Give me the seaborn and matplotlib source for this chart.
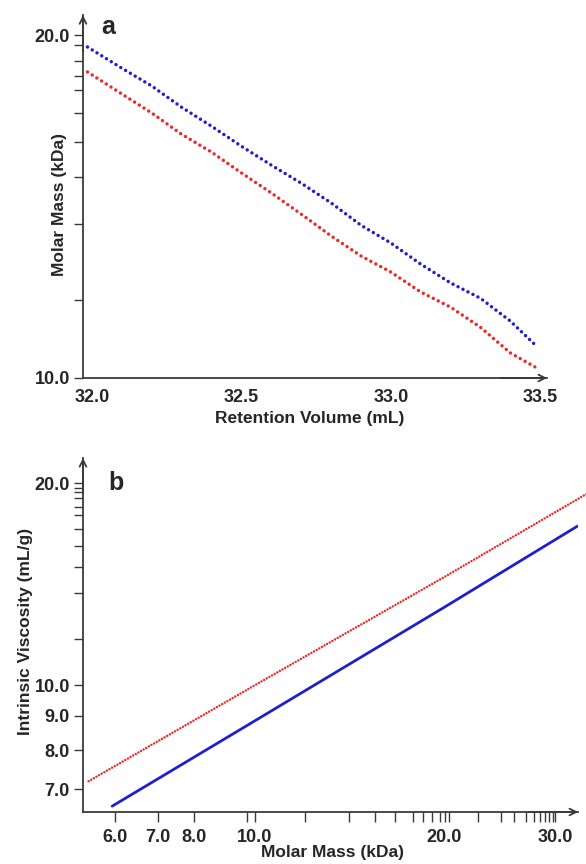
import pandas as pd
import seaborn as sns
import matplotlib.pyplot as plt

sns.set_style('ticks')
plt.rcParams['font.family'] = ['Liberation Sans', 'DejaVu Sans']
plt.rcParams['font.weight'] = 'bold'

# panel a: molar mass vs retention volume
retention_volume = [31.985, 32.1, 32.2, 32.3, 32.4, 32.5, 32.6, 32.7, 32.8,
                    32.9, 33.0, 33.1, 33.2, 33.3, 33.4, 33.49]
mass_blue = [19.53, 18.71, 18.05, 17.29, 16.64, 15.98, 15.38, 14.83, 14.25,
             13.62, 13.14, 12.59, 12.12, 11.75, 11.22, 10.65]
mass_red = [18.57, 17.76, 17.09, 16.37, 15.79, 15.14, 14.54, 13.93, 13.33,
            12.80, 12.39, 11.90, 11.54, 11.08, 10.52, 10.20]

# panel b: intrinsic viscosity vs molar mass (Mark-Houwink lines)
mm_red = [5.44, 10.0, 20.0, 33.7]
visc_red = [7.19, 10.0, 14.5, 19.3]
mm_blue = [5.93, 10.0, 20.0, 32.5]
visc_blue = [6.6, 8.85, 13.07, 17.25]

# tick labels
a_xticks = [32.0, 32.5, 33.0, 33.5]
a_yticks = [10.0, 20.0]
b_xticks = [6.0, 7.0, 8.0, 10.0, 20.0, 30.0]
b_yticks = [7.0, 8.0, 9.0, 10.0, 20.0]
y_minor = [11.7, 13.65, 15.0, 16.1, 17.1, 17.9, 18.4, 19.0, 19.6]
b_y_minor = [11.7, 13.7, 15.0, 16.1, 17.1, 17.9, 18.4, 19.0, 19.4, 19.7]
b_x_minor = [9.7, 12.0, 14.1, 15.5, 16.7, 17.8, 18.5, 19.1, 19.7, 20.3,
             22.6, 24.6, 25.8, 26.9, 27.7, 28.4, 28.9, 29.3, 29.7]

BLUE = '#1f1fd0'
RED = '#ec2a2a'
AX = '#3a3a3a'

df_a = pd.DataFrame({'vol': retention_volume * 2,
                     'mass': mass_blue + mass_red,
                     'series': ['blue'] * len(mass_blue) + ['red'] * len(mass_red)})

fig = plt.figure(figsize=(5.86, 8.64), dpi=100)
ax1 = fig.add_axes([0.1416, 0.5625, 0.792, 0.420])
ax2 = fig.add_axes([0.1416, 0.0602, 0.845, 0.4097])


def style_axes(ax):
    sns.despine(ax=ax)
    for side in ['left', 'bottom']:
        ax.spines[side].set_color(AX)
        ax.spines[side].set_linewidth(1.3)
    ax.annotate('', xy=(1, 0), xytext=(0.9, 0), xycoords='axes fraction',
                arrowprops=dict(arrowstyle='->', lw=1.3, color=AX,
                                shrinkA=0, shrinkB=0, mutation_scale=12),
                annotation_clip=False)
    ax.annotate('', xy=(0, 1), xytext=(0, 0.9), xycoords='axes fraction',
                arrowprops=dict(arrowstyle='->', lw=1.3, color=AX,
                                shrinkA=0, shrinkB=0, mutation_scale=12),
                annotation_clip=False)


# ---- panel a
for name, col in [('blue', BLUE), ('red', RED)]:
    sub = df_a[df_a['series'] == name]
    sns.lineplot(data=sub, x='vol', y='mass', ax=ax1, color=col, lw=2.5,
                 linestyle=(0, (0.01, 1.6)), dash_capstyle='round',
                 sort=False, estimator=None)
ax1.set_yscale('log')
ax1.set_xlim(31.97, 33.523)
ax1.set_ylim(10.0, 20.83)
ax1.set_xticks(a_xticks)
ax1.set_xticklabels([f'{v:.1f}' for v in a_xticks])
ax1.set_yticks(a_yticks)
ax1.set_yticklabels([f'{v:.1f}' for v in a_yticks])
ax1.set_yticks(y_minor, minor=True)
ax1.yaxis.set_minor_formatter(plt.NullFormatter())
ax1.tick_params(axis='x', length=0, pad=8, labelsize=13)
ax1.tick_params(axis='y', which='both', length=6.5, width=1, color=AX,
                pad=3, labelsize=13)
ax1.set_xlabel('Retention Volume (mL)', fontsize=12.5, fontweight='bold')
ax1.set_ylabel('Molar Mass (kDa)', fontsize=12.5, fontweight='bold')
ax1.xaxis.set_label_coords(0.489, -0.092)
ax1.yaxis.set_label_coords(-0.035, 0.477)
style_axes(ax1)
fig.text(108 / 586, 1 - 27 / 864, 'a', fontsize=18, fontweight='bold',
         ha='center', va='center')

# ---- panel b
df_red = pd.DataFrame({'mm': mm_red, 'visc': visc_red})
df_blue = pd.DataFrame({'mm': mm_blue, 'visc': visc_blue})
sns.lineplot(data=df_red, x='mm', y='visc', ax=ax2, color=RED, lw=1.8,
             linestyle=(0, (0.01, 1.2)), dash_capstyle='round', clip_on=False)
sns.lineplot(data=df_blue, x='mm', y='visc', ax=ax2, color=BLUE, lw=2.0)
ax2.set_xscale('log')
ax2.set_yscale('log')
ax2.set_xlim(5.33, 32.6)
ax2.set_ylim(6.47, 21.8)
ax2.set_xticks(b_xticks)
ax2.set_xticklabels([f'{v:.1f}' for v in b_xticks])
ax2.set_xticks(b_x_minor, minor=True)
ax2.xaxis.set_minor_formatter(plt.NullFormatter())
ax2.set_yticks(b_yticks)
ax2.set_yticklabels([f'{v:.1f}' for v in b_yticks])
ax2.set_yticks(b_y_minor, minor=True)
ax2.yaxis.set_minor_formatter(plt.NullFormatter())
ax2.tick_params(axis='x', which='both', length=7, width=1, color=AX,
                pad=5, labelsize=13)
ax2.tick_params(axis='y', which='both', length=6.5, width=1, color=AX,
                pad=3, labelsize=13)
ax2.set_xlabel('Molar Mass (kDa)', fontsize=12.5, fontweight='bold')
ax2.set_ylabel('Intrinsic Viscosity (mL/g)', fontsize=12.5, fontweight='bold')
ax2.xaxis.set_label_coords(0.503, -0.093)
ax2.yaxis.set_label_coords(-0.1, 0.511)
style_axes(ax2)
fig.text(116 / 586, 1 - 483 / 864, 'b', fontsize=18, fontweight='bold',
         ha='center', va='center')

fig.savefig('out.png', dpi=100)
